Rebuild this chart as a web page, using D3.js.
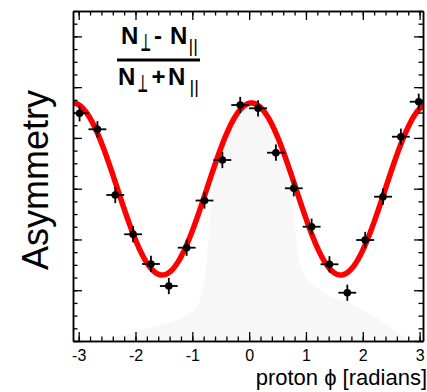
<!DOCTYPE html>
<html>
<head>
<meta charset="utf-8">
<script src="https://cdn.jsdelivr.net/npm/d3@7"></script>
<style>
  html, body { margin: 0; padding: 0; background: #fff; }
  svg { display: block; }
</style>
</head>
<body>
<svg id="chart" width="427" height="392"></svg>
<script>
// ---- data ----
const binCount = 20;
const binIndex = d3.range(binCount);
const phiValues = binIndex.map(k => -Math.PI + Math.PI / 20 + k * Math.PI / 10);
const asymValues = [0.0485, 0.017, -0.1124, -0.1898, -0.2483, -0.2917, -0.2162, -0.1233,
  -0.0435, 0.0648, 0.0583, -0.0291, -0.0992, -0.1749, -0.2489, -0.3049, -0.2011, -0.1158,
  0.0024, 0.0713];
const asymErrors = [0.016, 0.016, 0.016, 0.016, 0.016, 0.016, 0.016, 0.016, 0.016, 0.016,
  0.016, 0.016, 0.016, 0.016, 0.016, 0.016, 0.016, 0.016, 0.016, 0.016];
const binHalfWidth = Math.PI / 20;
// fit: A + B cos(2(phi - phi0))
const fitOffset = -0.1006;
const fitAmplitude = 0.1694;
const fitPhase = 0.04;
// faint background distribution
const bgPhi = [-2.72, -1.752, -0.960, -0.783, -0.660, -0.484, -0.255, 0.009, 0.273, 0.537, 0.748, 0.924, 1.241, 1.769, 2.298, 2.826];
const bgVal = [-0.40, -0.3744, -0.3389, -0.2798, -0.1223, -0.0041, 0.0511, 0.0668, 0.0511, -0.0041, -0.1223, -0.2601, -0.2995, -0.3251, -0.3586, -0.40];
const xMajorTicks = [-3, -2, -1, 0, 1, 2, 3];
const xMinorTicks = d3.range(-31, 31).map(i => i * 0.2).filter(v => v > -3.11 && v < 3.07);
const yMajorTicks = [-0.4, -0.3, -0.2, -0.1, 0, 0.1, 0.2];
const yMinorTicks = d3.range(-16, 11).map(i => i * 0.025);
const xTitle = "proton \u03d5 [radians]";
const yTitle = "Asymmetry";

// ---- layout ----
const svg = d3.select("#chart");
const pLeft = 73, pRight = 423, pTop = 11, pBottom = 341;
const x = d3.scaleLinear().domain([-3.1, 3.06]).range([pLeft, pRight]);
const y = d3.scaleLinear().domain([-0.4, 0.25]).range([pBottom, pTop]);
const font = "'Liberation Sans', Arial, Helvetica, sans-serif";

svg.append("defs").append("clipPath").attr("id", "plotclip")
  .append("rect").attr("x", pLeft).attr("y", pTop).attr("width", pRight - pLeft).attr("height", pBottom - pTop);

const plot = svg.append("g").attr("clip-path", "url(#plotclip)");

// background shape
plot.append("path")
  .datum(bgPhi.map((p, i) => [p, bgVal[i]]))
  .attr("fill", "#f8f7f7")
  .attr("d", d3.area().x(d => x(d[0])).y0(pBottom).y1(d => y(d[1])).curve(d3.curveMonotoneX));

// fit curve
const curvePhi = d3.range(0, 401).map(i => -3.2 + i * 6.4 / 400);
plot.append("path")
  .datum(curvePhi)
  .attr("fill", "none")
  .attr("stroke", "#f00")
  .attr("stroke-width", 5.5)
  .attr("d", d3.line().x(p => x(p)).y(p => y(fitOffset + fitAmplitude * Math.cos(2 * (p - fitPhase)))));

// data points with error bars
const pts = plot.append("g");
binIndex.forEach(k => {
  const p = phiValues[k], v = asymValues[k], e = asymErrors[k];
  pts.append("line").attr("x1", x(p - binHalfWidth)).attr("x2", x(p + binHalfWidth))
    .attr("y1", y(v)).attr("y2", y(v)).attr("stroke", "#000").attr("stroke-width", 1.8);
  pts.append("line").attr("x1", x(p)).attr("x2", x(p))
    .attr("y1", y(v - e)).attr("y2", y(v + e)).attr("stroke", "#000").attr("stroke-width", 1.8);
  pts.append("circle").attr("cx", x(p)).attr("cy", y(v)).attr("r", 3.8).attr("fill", "#000");
});

// axes
function styleAxis(g) {
  g.selectAll("path.domain").attr("stroke", "#000").attr("stroke-width", 1.5);
  g.selectAll(".tick line").attr("stroke", "#000").attr("stroke-width", 1.3);
}
const fmt = d => String(d);
// bottom
svg.append("g").attr("transform", `translate(0,${pBottom})`)
  .call(d3.axisBottom(x).tickValues(xMinorTicks).tickSize(-4.5).tickSizeOuter(0).tickFormat(""))
  .call(styleAxis);
const bAxis = svg.append("g").attr("transform", `translate(0,${pBottom})`)
  .call(d3.axisBottom(x).tickValues(xMajorTicks).tickSize(-9).tickSizeOuter(0).tickPadding(9).tickFormat(fmt))
  .call(styleAxis);
bAxis.selectAll("text").attr("font-family", font).attr("font-size", 16).attr("fill", "#000");
// top
svg.append("g").attr("transform", `translate(0,${pTop})`)
  .call(d3.axisTop(x).tickValues(xMinorTicks).tickSize(-4.5).tickSizeOuter(0).tickFormat(""))
  .call(styleAxis);
svg.append("g").attr("transform", `translate(0,${pTop})`)
  .call(d3.axisTop(x).tickValues(xMajorTicks).tickSize(-9).tickSizeOuter(0).tickFormat(""))
  .call(styleAxis);
// left
svg.append("g").attr("transform", `translate(${pLeft},0)`)
  .call(d3.axisLeft(y).tickValues(yMinorTicks).tickSize(-4.5).tickSizeOuter(0).tickFormat(""))
  .call(styleAxis);
svg.append("g").attr("transform", `translate(${pLeft},0)`)
  .call(d3.axisLeft(y).tickValues(yMajorTicks).tickSize(-9).tickSizeOuter(0).tickFormat(""))
  .call(styleAxis);
// right
svg.append("g").attr("transform", `translate(${pRight},0)`)
  .call(d3.axisRight(y).tickValues(yMinorTicks).tickSize(-4.5).tickSizeOuter(0).tickFormat(""))
  .call(styleAxis);
svg.append("g").attr("transform", `translate(${pRight},0)`)
  .call(d3.axisRight(y).tickValues(yMajorTicks).tickSize(-9).tickSizeOuter(0).tickFormat(""))
  .call(styleAxis);

// axis titles
svg.append("text").attr("x", 427).attr("y", 385).attr("text-anchor", "end")
  .attr("font-family", font).attr("font-size", 22).attr("fill", "#000").text(xTitle);
svg.append("text").attr("transform", "translate(48,180) rotate(-90)").attr("text-anchor", "middle")
  .attr("font-family", font).attr("font-size", 36).attr("fill", "#000").text(yTitle);

// formula label
const lab = svg.append("g").attr("font-family", font).attr("fill", "#000");
function piece(txt, px, py, size, weight, sx, fam) {
  const t = lab.append("text").attr("transform", `translate(${px},${py}) scale(${sx || 1},1)`)
    .attr("font-size", size).attr("font-weight", weight).text(txt);
  if (fam) t.attr("font-family", fam);
}
const perpFont = "'DejaVu Sans', sans-serif";
// numerator
piece("N", 121, 43.5, 24, "bold");
piece("\u22a5", 140.5, 50.5, 24, "bold", 0.48, perpFont);
piece("-", 154, 43.5, 24, "bold");
piece("N", 170, 43.5, 24, "bold");
piece("||", 188.5, 51.5, 18, "normal");
// fraction bar
lab.append("line").attr("x1", 117).attr("x2", 200).attr("y1", 60).attr("y2", 60)
  .attr("stroke", "#000").attr("stroke-width", 3);
// denominator
piece("N", 118, 85, 24, "bold");
piece("\u22a5", 137.5, 92, 24, "bold", 0.48, perpFont);
piece("+", 151.5, 85, 24, "bold");
piece("N", 168, 85, 24, "bold");
piece("||", 189.5, 93, 18, "normal");
</script>
</body>
</html>
